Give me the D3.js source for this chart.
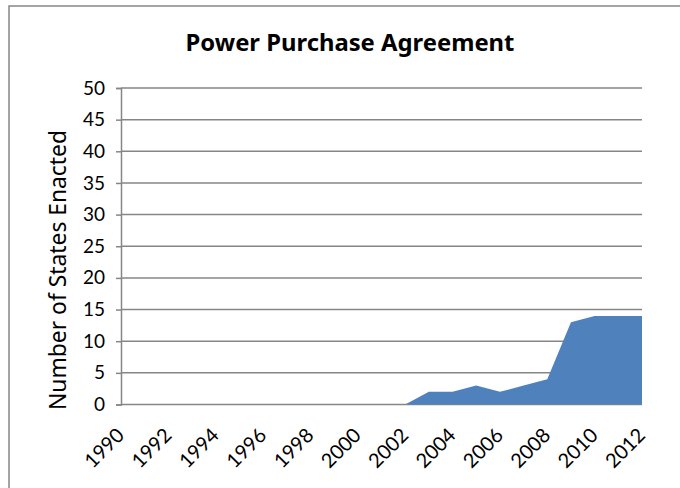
<!DOCTYPE html>
<html>
<head>
<meta charset="utf-8">
<script src="https://cdn.jsdelivr.net/npm/d3@7"></script>
<style>
body { margin: 0; background: #fff; }
svg { display: block; font-family: "Lato", "Open Sans", sans-serif; }
</style>
</head>
<body>
<svg width="680" height="488"></svg>
<script>
// Data
var years = [1990, 1991, 1992, 1993, 1994, 1995, 1996, 1997, 1998, 1999, 2000, 2001,
	2002, 2003, 2004, 2005, 2006, 2007, 2008, 2009, 2010, 2011, 2012];
var states = [0, 0, 0, 0, 0, 0, 0, 0, 0, 0, 0, 0,
	0, 2, 2, 3, 2, 3, 4, 13, 14, 14, 14];
var yTicks = [0, 5, 10, 15, 20, 25, 30, 35, 40, 45, 50];
var xTicks = [1990, 1992, 1994, 1996, 1998, 2000, 2002, 2004, 2006, 2008, 2010, 2012];

var svg = d3.select("svg");

// outer border of the chart box
svg.append("rect")
	.attr("x", 9).attr("y", 6)
	.attr("width", 700).attr("height", 500)
	.attr("fill", "none")
	.attr("stroke", "#868686")
	.attr("stroke-width", 1.5);

var margin = { top: 88, left: 121, right: 642, bottom: 404.5 };

var x = d3.scaleLinear().domain([1990, 2012]).range([margin.left, margin.right]);
var y = d3.scaleLinear().domain([0, 50]).range([margin.bottom, margin.top]);

// gridlines
svg.append("g")
	.selectAll("line")
	.data(yTicks)
	.enter().append("line")
	.attr("x1", margin.left).attr("x2", margin.right)
	.attr("y1", function (d) { return y(d); })
	.attr("y2", function (d) { return y(d); })
	.attr("stroke", "#868686")
	.attr("stroke-width", 1.5);

// area
var area = d3.area()
	.x(function (d, i) { return x(years[i]); })
	.y0(y(0))
	.y1(function (d) { return y(d); });

svg.append("path")
	.datum(states)
	.attr("fill", "#4F81BD")
	.attr("d", area);

// y axis
var yAxis = svg.append("g")
	.attr("transform", "translate(" + margin.left + ",0)")
	.call(d3.axisLeft(y).tickValues(yTicks).tickSize(5).tickPadding(11));
yAxis.selectAll("line").attr("stroke", "#868686").attr("stroke-width", 1.5);
yAxis.select(".domain").attr("stroke", "#868686").attr("stroke-width", 1.5);
yAxis.selectAll("text")
	.attr("fill", "#000")
	.style("font-size", "19px")
	.style("font-family", "Lato, sans-serif");

// x axis labels
var xAxis = svg.append("g")
	.attr("transform", "translate(0," + margin.bottom + ")")
	.call(d3.axisBottom(x).tickValues(xTicks).tickFormat(d3.format("d")).tickSize(0));
xAxis.select(".domain").remove();
xAxis.selectAll("text")
	.attr("fill", "#000")
	.style("font-size", "20px")
	.style("font-family", "Lato, sans-serif")
	.attr("text-anchor", "end")
	.attr("dy", "0")
	.attr("y", 0)
	.attr("transform", "translate(4,32) rotate(-45)");

// fit a text to a target length by scaling its font size
function fit(sel, base, target) {
	var w = sel.node().getComputedTextLength();
	sel.style("font-size", (base * target / w) + "px");
}

// title
var title = svg.append("text")
	.attr("x", 350).attr("y", 51)
	.attr("text-anchor", "middle")
	.style("font-family", "'Noto Sans', sans-serif")
	.style("font-size", "20px")
	.style("font-weight", "bold")
	.attr("fill", "#000")
	.text("Power Purchase Agreement");
fit(title, 20, 329);

// y axis title
var ytitle = svg.append("text")
	.attr("transform", "translate(66,270) rotate(-90)")
	.attr("text-anchor", "middle")
	.style("font-family", "'Noto Sans', sans-serif")
	.style("font-size", "20px")
	.attr("fill", "#000")
	.text("Number of States Enacted");
fit(ytitle, 20, 280);
</script>
</body>
</html>
